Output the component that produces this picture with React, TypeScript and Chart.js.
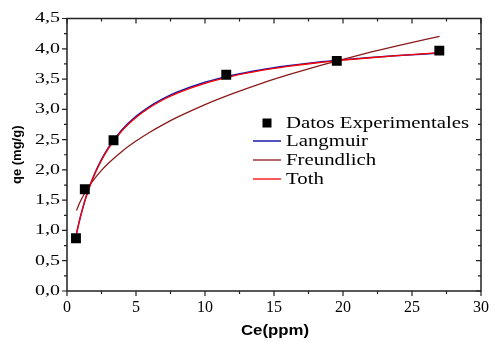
import { useEffect, useRef } from 'react';
import { Chart, registerables } from 'chart.js';

Chart.register(...registerables);

// Experimental data
const expCe = [0.65, 1.29, 3.37, 11.54, 19.55, 26.98];
const expQe = [0.87, 1.68, 2.49, 3.57, 3.8, 3.97];

// Fitted curves
const fitCe = [0.69, 0.85, 1, 1.25, 1.5, 1.75, 2, 2.5, 3, 4, 5, 6, 7, 8, 10, 12, 14, 16, 18, 20, 22, 24, 27];
const langmuirQe = [0.949, 1.112, 1.251, 1.458, 1.638, 1.796, 1.937, 2.175, 2.369, 2.667, 2.884, 3.05, 3.181, 3.286, 3.446, 3.562, 3.65, 3.718, 3.773, 3.818, 3.856, 3.888, 3.929];
const freundlichQe = [1.33, 1.42, 1.494, 1.602, 1.697, 1.781, 1.857, 1.992, 2.109, 2.309, 2.476, 2.622, 2.752, 2.87, 3.079, 3.26, 3.422, 3.568, 3.703, 3.827, 3.943, 4.053, 4.205];
const tothQe = [0.95, 1.11, 1.248, 1.452, 1.63, 1.786, 1.925, 2.16, 2.352, 2.648, 2.864, 3.03, 3.162, 3.268, 3.43, 3.548, 3.638, 3.708, 3.765, 3.812, 3.852, 3.887, 3.936];

const seriesLabels = ['Datos Experimentales', 'Langmuir', 'Freundlich', 'Toth'];
const xTitle = 'Ce(ppm)';
const yTitle = 'qe (mg/g)';

const SERIF = '"Liberation Serif", "Times New Roman", serif';
const SANS = '"Liberation Sans", Arial, sans-serif';

const toXY = (xs: number[], ys: number[]) => xs.map((x, i) => ({ x, y: ys[i] }));
const fmt = (v: number) => Number(v).toFixed(1).replace('.', ',');

const framePlugin = {
  id: 'frame',
  afterDraw(chart: any) {
    const { ctx, chartArea } = chart;
    const xs = chart.scales.x;
    const ys = chart.scales.y;
    ctx.save();
    ctx.strokeStyle = '#222';
    ctx.lineWidth = 1.5;
    ctx.strokeRect(chartArea.left, chartArea.top, chartArea.right - chartArea.left, chartArea.bottom - chartArea.top);
    ctx.lineWidth = 1.2;
    for (let v = 0; v <= 30.001; v += 2.5) {
      const px = xs.getPixelForValue(v);
      const major = Math.abs(v / 5 - Math.round(v / 5)) < 1e-6;
      const len = major ? 5 : 3;
      ctx.beginPath();
      ctx.moveTo(px, chartArea.bottom);
      ctx.lineTo(px, chartArea.bottom + len);
      ctx.moveTo(px, chartArea.top);
      ctx.lineTo(px, chartArea.top + len);
      ctx.stroke();
    }
    for (let v = 0; v <= 4.5001; v += 0.25) {
      const py = ys.getPixelForValue(v);
      const major = Math.abs(v / 0.5 - Math.round(v / 0.5)) < 1e-6;
      const len = major ? 5 : 3;
      ctx.beginPath();
      ctx.moveTo(chartArea.left, py);
      ctx.lineTo(chartArea.left - len, py);
      ctx.moveTo(chartArea.right, py);
      ctx.lineTo(chartArea.right - len, py);
      ctx.stroke();
    }

    // y tick labels (slightly wide serif)
    ctx.fillStyle = '#000';
    ctx.font = '15px ' + SERIF;
    ctx.textAlign = 'right';
    ctx.textBaseline = 'middle';
    ys.ticks.forEach((t: any) => {
      const py = ys.getPixelForValue(t.value);
      ctx.save();
      ctx.translate(chartArea.left - 7, py);
      ctx.scale(1.33, 1);
      ctx.fillText(fmt(t.value), 0, 0);
      ctx.restore();
    });

    // x title
    ctx.font = 'bold 14px ' + SANS;
    ctx.textAlign = 'center';
    ctx.save();
    ctx.translate((chartArea.left + chartArea.right) / 2 + 1, 331);
    ctx.scale(1.2, 1);
    ctx.fillText(xTitle, 0, 0);
    ctx.restore();

    // legend
    const datasets = chart.data.datasets;
    const lx = 267;
    const rowY = [123, 141, 160, 179];
    ctx.font = '16px ' + SERIF;
    ctx.textBaseline = 'middle';
    ctx.textAlign = 'left';
    datasets.forEach((ds: any, i: number) => {
      const y = rowY[i];
      if (ds.showLine) {
        ctx.strokeStyle = ds.borderColor;
        ctx.lineWidth = ds.borderWidth;
        ctx.beginPath();
        ctx.moveTo(lx - 14, y);
        ctx.lineTo(lx + 14, y);
        ctx.stroke();
      } else {
        ctx.fillStyle = ds.pointBackgroundColor;
        ctx.fillRect(lx - 4.5, y - 4.5, 9, 9);
      }
      ctx.fillStyle = '#000';
      ctx.save();
      ctx.translate(lx + 19, y + 1);
      ctx.scale(1.3, 1);
      ctx.fillText(ds.label, 0, 0);
      ctx.restore();
    });
    ctx.restore();
  },
};

export default function App() {
  const canvasRef = useRef<HTMLCanvasElement | null>(null);

  useEffect(() => {
    if (!canvasRef.current) return;
    const chart = new Chart(canvasRef.current, {
      type: 'scatter',
      data: {
        datasets: [
          {
            label: seriesLabels[0],
            data: toXY(expCe, expQe),
            showLine: false,
            pointStyle: 'rect',
            pointRadius: 7,
            pointBackgroundColor: '#000',
            pointBorderColor: '#000',
            pointBorderWidth: 0,
            order: 0,
          },
          {
            label: seriesLabels[1],
            data: toXY(fitCe, langmuirQe),
            showLine: true,
            borderColor: '#1a1aa8',
            borderWidth: 1.5,
            pointRadius: 0,
            cubicInterpolationMode: 'monotone',
            order: 3,
          },
          {
            label: seriesLabels[2],
            data: toXY(fitCe, freundlichQe),
            showLine: true,
            borderColor: '#8b1a1a',
            borderWidth: 1.3,
            pointRadius: 0,
            cubicInterpolationMode: 'monotone',
            order: 2,
          },
          {
            label: seriesLabels[3],
            data: toXY(fitCe, tothQe),
            showLine: true,
            borderColor: '#ff0000',
            borderWidth: 1.3,
            pointRadius: 0,
            cubicInterpolationMode: 'monotone',
            order: 1,
          },
        ],
      },
      options: {
        responsive: false,
        animation: false,
        devicePixelRatio: 1,
        layout: { padding: { top: 18.5, right: 10.5, left: 0, bottom: 0 } },
        plugins: {
          legend: { display: false },
          tooltip: { enabled: false },
        },
        scales: {
          x: {
            type: 'linear',
            min: 0,
            max: 30,
            grid: { display: false, drawTicks: false },
            border: { display: false },
            ticks: {
              stepSize: 5,
              color: '#000',
              padding: 7,
              maxRotation: 0,
              font: { family: SERIF, size: 16 },
            },
            title: { display: false, text: xTitle },
            afterFit: (s: any) => {
              s.height = 51;
            },
          },
          y: {
            type: 'linear',
            min: 0,
            max: 4.5,
            grid: { display: false, drawTicks: false },
            border: { display: false },
            ticks: {
              display: false,
              stepSize: 0.5,
              callback: (v: any) => fmt(v),
            },
            title: {
              display: true,
              text: yTitle,
              color: '#000',
              font: { family: SANS, size: 13, weight: 'bold' },
              padding: { top: 10, bottom: 0 },
            },
            afterFit: (s: any) => {
              s.width = 67;
            },
          },
        },
      },
      plugins: [framePlugin],
    } as any);
    return () => chart.destroy();
  }, []);

  return (
    <div style={{ position: 'absolute', left: 0, top: 0, width: 496, height: 342, background: '#fff' }}>
      <canvas ref={canvasRef} width={496} height={342} />
    </div>
  );
}
